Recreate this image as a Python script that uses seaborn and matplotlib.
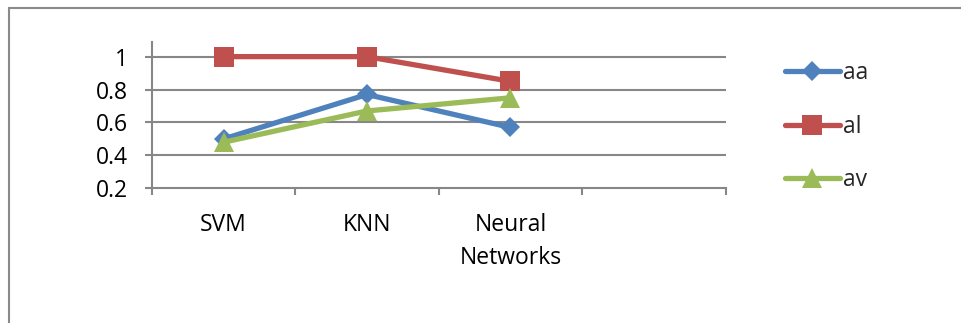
import pandas as pd
import numpy as np
import matplotlib
matplotlib.use("Agg")
import matplotlib.pyplot as plt
import seaborn as sns
from matplotlib.patches import Rectangle

# data
models = ["SVM", "KNN", "Neural\nNetworks"]
aa = [0.50, 0.77, 0.57]
al = [1.00, 1.00, 0.85]
av = [0.48, 0.67, 0.75]
series_names = ["aa", "al", "av"]
y_ticks = [0.2, 0.4, 0.6, 0.8, 1.0]
y_tick_labels = ["0.2", "0.4", "0.6", "0.8", "1"]

df = pd.DataFrame({
    "model": models * 3,
    "value": aa + al + av,
    "series": ["aa"] * 3 + ["al"] * 3 + ["av"] * 3,
})

sns.set_style("white")
plt.rcParams["font.family"] = ["Open Sans", "DejaVu Sans"]

colors = ["#4F81BD", "#C0504D", "#9BBB59"]
grid_col = "#878787"
fs = 16.5

fig = plt.figure(figsize=(9.61, 3.23), dpi=100)
ax = fig.add_axes([0.158, 0.417, 0.597, 0.454])

sns.lineplot(data=df, x="model", y="value", hue="series", style="series",
             palette=colors, markers=["D", "s", "^"], dashes=False,
             linewidth=3.8, markersize=14, markeredgewidth=0,
             legend=False, ax=ax, sort=False)
# diamond a bit smaller than the others
ax.lines[0].set_markersize(10.5)

ax.set_xlim(-0.5, 3.5)
ax.set_ylim(0.2, 1.091)
ax.set_xlabel("")
ax.set_ylabel("")

ax.set_yticks(y_ticks)
ax.set_yticklabels(y_tick_labels)
ax.set_xticks([0, 1, 2])
ax.set_xticklabels(models)
ax.set_xticks(np.arange(-0.5, 3.6, 1.0), minor=True)

ax.tick_params(axis="x", which="major", bottom=False, pad=14, labelsize=fs, labelcolor="black")
ax.tick_params(axis="x", which="minor", bottom=True, length=5, width=1.5, color=grid_col, direction="out")
ax.tick_params(axis="y", left=True, length=5, width=1.5, color=grid_col, direction="out",
               pad=12, labelsize=fs, labelcolor="black")
for lab in ax.get_xticklabels():
    lab.set_linespacing(1.5)
    lab.set_verticalalignment("top")

for y in y_ticks[1:]:
    ax.axhline(y, color=grid_col, lw=1.5, zorder=0)

for s in ["top", "right"]:
    ax.spines[s].set_visible(False)
for s in ["left", "bottom"]:
    ax.spines[s].set_color(grid_col)
    ax.spines[s].set_linewidth(1.5)

ax.legend(handles=ax.lines[:3], labels=series_names, loc="upper left",
          bbox_to_anchor=(1.083, 0.945), frameon=False, fontsize=fs,
          handlelength=2.4, handletextpad=0.13, labelspacing=1.28, borderpad=0)

# chart area border
fig.patches.append(Rectangle((9 / 961, -0.05), 1.0, 1 - 7.5 / 323 + 0.05,
                             transform=fig.transFigure, fill=False,
                             edgecolor="#8a8a8a", lw=1.5))

fig.savefig("out.png", dpi=100)
